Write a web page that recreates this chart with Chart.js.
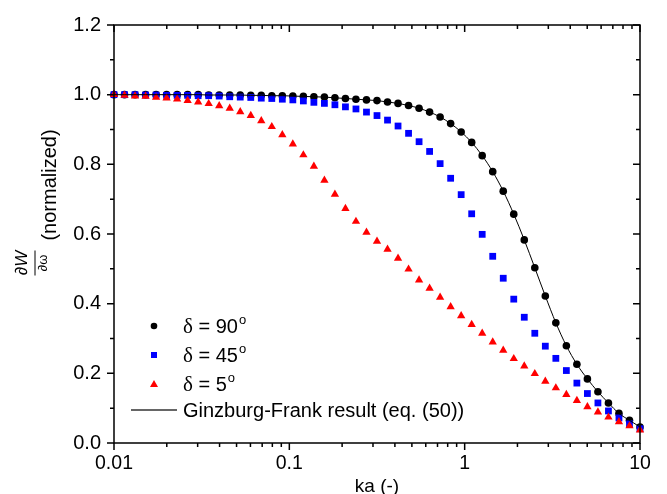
<!DOCTYPE html>
<html>
<head>
<meta charset="utf-8">
<script src="https://cdn.jsdelivr.net/npm/chart.js@4.4.1/dist/chart.umd.min.js"></script>
<style>
  body { margin: 0; background: #fff; }
  canvas { display: block; }
</style>
</head>
<body>
<canvas id="dwChart" width="667" height="494"></canvas>
<script>
// ka values (log spaced, 0.01 .. 10)
var ka = [0.01, 0.01148, 0.01318, 0.01514, 0.01738, 0.01995, 0.02291, 0.0263, 0.0302, 0.03467,
          0.03981, 0.04571, 0.05248, 0.06026, 0.06918, 0.07943, 0.0912, 0.10471, 0.12023, 0.13804,
          0.15849, 0.18197, 0.20893, 0.23988, 0.27542, 0.31623, 0.36308, 0.41687, 0.47863, 0.54954,
          0.63096, 0.72444, 0.83176, 0.95499, 1.09648, 1.25893, 1.44544, 1.65959, 1.90546, 2.18776,
          2.51189, 2.88403, 3.31131, 3.80189, 4.36516, 5.01187, 5.7544, 6.60693, 7.58578, 8.70964, 10];

var delta90 = [1.0, 1.0, 1.0, 1.0, 1.0, 1.0, 1.0, 1.0, 1.0, 0.999,
               0.999, 0.999, 0.999, 0.998, 0.998, 0.997, 0.997, 0.996, 0.995, 0.994,
               0.993, 0.991, 0.989, 0.987, 0.985, 0.983, 0.979, 0.975, 0.969, 0.961,
               0.950, 0.936, 0.917, 0.893, 0.863, 0.825, 0.779, 0.723, 0.657, 0.583,
               0.503, 0.422, 0.345, 0.279, 0.226, 0.184, 0.147, 0.115, 0.085, 0.065, 0.046];

var delta45 = [1.0, 1.0, 1.0, 0.999, 0.999, 0.998, 0.998, 0.998, 0.997, 0.997,
               0.996, 0.994, 0.993, 0.992, 0.990, 0.989, 0.987, 0.985, 0.982, 0.978,
               0.975, 0.971, 0.965, 0.959, 0.950, 0.940, 0.927, 0.910, 0.889, 0.865,
               0.837, 0.802, 0.760, 0.713, 0.658, 0.599, 0.536, 0.473, 0.413, 0.361,
               0.315, 0.278, 0.243, 0.208, 0.172, 0.142, 0.115, 0.092, 0.072, 0.055, 0.041];

var delta5 = [1.0, 0.998, 0.996, 0.995, 0.992, 0.990, 0.987, 0.983, 0.979, 0.974,
              0.968, 0.961, 0.951, 0.940, 0.925, 0.908, 0.885, 0.858, 0.827, 0.794,
              0.754, 0.714, 0.673, 0.636, 0.605, 0.579, 0.556, 0.530, 0.499, 0.468,
              0.444, 0.418, 0.391, 0.365, 0.340, 0.315, 0.290, 0.266, 0.242, 0.221,
              0.199, 0.177, 0.158, 0.139, 0.122, 0.104, 0.089, 0.074, 0.061, 0.049, 0.037];

// Ginzburg-Frank curve
var ginzburgFrank = delta90;

var xTickLabels = ['0.01', '0.1', '1', '10'];
var yTickLabels = ['0.0', '0.2', '0.4', '0.6', '0.8', '1.0', '1.2'];

var SANS = '"Liberation Sans", Arial, Helvetica, sans-serif';
var SERIF = '"Liberation Serif", "Times New Roman", serif';

function toPoints(ys) {
    return ka.map(function(k, i) { return { x: k, y: ys[i] }; });
}

var framePlugin = {
    id: 'framePlugin',
    afterDraw: function(chart) {
        var c = chart.ctx;
        var a = chart.chartArea;
        var xs = chart.scales.x, ys = chart.scales.y;
        c.save();
        c.strokeStyle = '#000';
        c.lineWidth = 1.5;
        c.beginPath();
        c.rect(a.left, a.top, a.right - a.left, a.bottom - a.top);
        c.stroke();

        // y ticks: left outward, right inward
        c.beginPath();
        for (var i = 0; i <= 12; i++) {
            var py = ys.getPixelForValue(i / 10);
            var len = (i % 2 === 0) ? 7 : 4;
            c.moveTo(a.left - len, py); c.lineTo(a.left, py);
            c.moveTo(a.right, py); c.lineTo(a.right - len, py);
        }
        // x ticks: bottom outward, top inward
        for (var d = -2; d <= 1; d++) {
            for (var m = 1; m <= 9; m++) {
                var v = m * Math.pow(10, d);
                if (v > 10.0001) break;
                var px = xs.getPixelForValue(v);
                var l2 = (m === 1) ? 7 : 4;
                c.moveTo(px, a.bottom); c.lineTo(px, a.bottom + l2);
                c.moveTo(px, a.top); c.lineTo(px, a.top + l2);
            }
        }
        c.stroke();

        // x axis title
        c.fillStyle = '#000';
        c.font = '19px ' + SANS;
        c.textAlign = 'center';
        c.textBaseline = 'alphabetic';
        c.fillText('ka (-)', (a.left + a.right) / 2, 492);

        // y axis title: dW/dw (normalized), rotated
        c.save();
        c.translate(0, 185);
        c.rotate(-Math.PI / 2);
        c.font = '20px ' + SANS;
        c.fillText('(normalized)', 0, 56);
        c.restore();

        c.save();
        c.translate(0, 263);
        c.rotate(-Math.PI / 2);
        c.textAlign = 'left';
        c.font = '17px ' + SANS;
        var wD = c.measureText('\u2202').width;
        c.font = 'italic 17px ' + SANS;
        var wW = c.measureText('W').width;
        var x0 = -(wD + wW) / 2;
        c.font = '17px ' + SANS;
        c.fillText('\u2202', x0, 27);
        c.font = 'italic 17px ' + SANS;
        c.fillText('W', x0 + wD, 27);
        c.lineWidth = 1;
        c.beginPath();
        c.moveTo(-12.5, 35); c.lineTo(12.5, 35);
        c.stroke();
        c.textAlign = 'center';
        c.font = '13px ' + SANS;
        c.fillText('\u2202\u03c9', 0, 47);
        c.restore();

        // legend
        var rows = [
            { y: 326, label: '90', kind: 'circle', color: '#000000' },
            { y: 355, label: '45', kind: 'rect', color: '#0000ff' },
            { y: 384, label: '5', kind: 'triangle', color: '#ff0000' }
        ];
        rows.forEach(function(r) {
            c.fillStyle = r.color;
            c.beginPath();
            if (r.kind === 'circle') {
                c.arc(154, r.y, 3.3, 0, Math.PI * 2);
            } else if (r.kind === 'rect') {
                c.rect(151, r.y - 3, 6, 6);
            } else {
                c.moveTo(154, r.y - 4); c.lineTo(158, r.y + 3); c.lineTo(150, r.y + 3); c.closePath();
            }
            c.fill();
            c.fillStyle = '#000';
            c.textAlign = 'left';
            c.textBaseline = 'alphabetic';
            var tx = 183, base = r.y + 7;
            c.font = '21px ' + SERIF;
            c.fillText('\u03b4', tx, base);
            tx += c.measureText('\u03b4').width;
            c.font = '20px ' + SANS;
            var s = ' = ' + r.label;
            c.fillText(s, tx, base);
            tx += c.measureText(s).width + 1;
            c.font = '13px ' + SANS;
            c.fillText('o', tx, base - 9);
        });
        c.strokeStyle = '#333';
        c.lineWidth = 1.5;
        c.beginPath();
        c.moveTo(131, 410); c.lineTo(177, 410);
        c.stroke();
        c.fillStyle = '#000';
        c.font = '20px ' + SANS;
        c.fillText('Ginzburg-Frank result (eq. (50))', 183, 417);
        c.restore();
    }
};

var ctx = document.getElementById('dwChart').getContext('2d');
var dwChart = new Chart(ctx, {
    type: 'scatter',
    data: {
        datasets: [
            {
                label: 'Ginzburg-Frank result (eq. (50))',
                data: toPoints(ginzburgFrank),
                showLine: true,
                borderColor: '#000',
                borderWidth: 1,
                pointRadius: 0,
                cubicInterpolationMode: 'monotone',
                clip: false
            },
            {
                label: '\u03b4 = 5\u00b0',
                data: toPoints(delta5),
                pointStyle: 'triangle',
                pointRadius: 4.8,
                backgroundColor: '#ff0000',
                borderWidth: 0,
                clip: false
            },
            {
                label: '\u03b4 = 45\u00b0',
                data: toPoints(delta45),
                pointStyle: 'rect',
                pointRadius: 4.8,
                backgroundColor: '#0000ff',
                borderWidth: 0,
                clip: false
            },
            {
                label: '\u03b4 = 90\u00b0',
                data: toPoints(delta90),
                pointStyle: 'circle',
                pointRadius: 3.8,
                backgroundColor: '#000000',
                borderWidth: 0,
                clip: false
            }
        ]
    },
    options: {
        responsive: false,
        animation: false,
        events: [],
        layout: { padding: { top: 17, right: 27, left: 0, bottom: 0 } },
        plugins: {
            legend: { display: false },
            tooltip: { enabled: false }
        },
        scales: {
            x: {
                type: 'logarithmic',
                min: 0.01,
                max: 10,
                grid: { display: false, drawTicks: false },
                border: { display: false },
                afterFit: function(scale) { scale.height = 51; },
                ticks: {
                    autoSkip: false,
                    maxRotation: 0,
                    padding: 9,
                    color: '#000',
                    font: { family: SANS, size: 19.5 },
                    callback: function(value) {
                        var idx = [0.01, 0.1, 1, 10].findIndex(function(d) { return Math.abs(value - d) < d * 1e-6; });
                        return idx >= 0 ? xTickLabels[idx] : '';
                    }
                }
            },
            y: {
                min: 0,
                max: 1.2,
                grid: { display: false, drawTicks: false },
                border: { display: false },
                afterFit: function(scale) { scale.width = 114; },
                ticks: {
                    stepSize: 0.2,
                    padding: 13,
                    color: '#000',
                    font: { family: SANS, size: 20 },
                    callback: function(value) {
                        return yTickLabels[Math.round(value / 0.2)];
                    }
                }
            }
        }
    },
    plugins: [framePlugin]
});
</script>
</body>
</html>
